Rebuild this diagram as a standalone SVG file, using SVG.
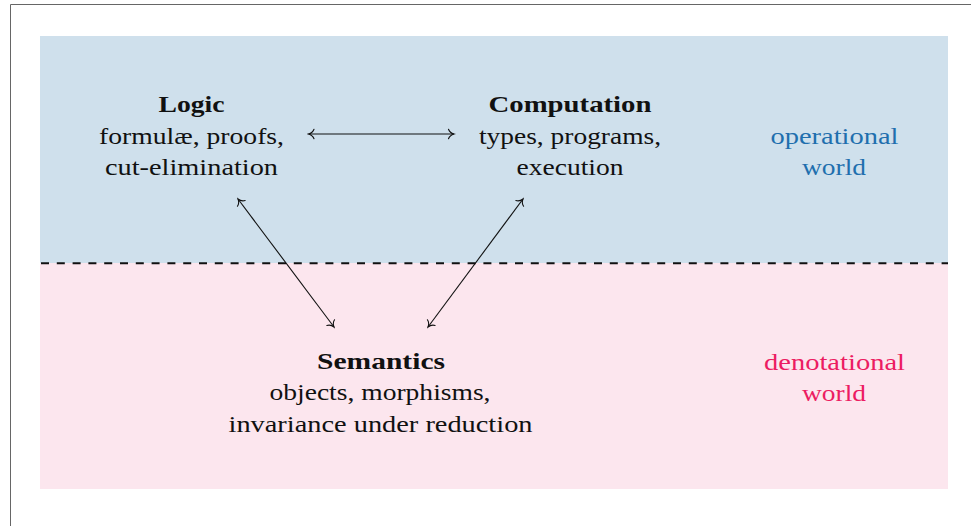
<svg xmlns="http://www.w3.org/2000/svg" width="971" height="526" viewBox="0 0 971 526">
<style>
.t{font-family:"Liberation Serif","DejaVu Serif",serif;font-size:24px;fill:#111;text-anchor:middle}
.b{font-weight:bold}
.op{fill:#1f6fae}
.dn{fill:#ec1c62}
.c{stroke:#111;stroke-width:1.1;fill:none;marker-start:url(#ah);marker-end:url(#ah)}
</style>
<defs>
<marker id="ah" viewBox="-7 -6 9 12" markerWidth="9" markerHeight="12" markerUnits="userSpaceOnUse" refX="0" refY="0" orient="auto-start-reverse">
<path d="M-5.5,-4.8 C-4.5,-2 -1.5,-0.4 0,0 C-1.5,0.4 -4.5,2 -5.5,4.8" fill="none" stroke="#111" stroke-width="1.1" stroke-linecap="round"/>
</marker>
</defs>
<rect x="0" y="0" width="971" height="526" fill="#fff"/>
<path d="M10.5,526 V4.5 H971" fill="none" stroke="#666" stroke-width="1"/>
<rect x="40" y="36" width="908" height="227" fill="#cfe0ec"/>
<rect x="40" y="263" width="908" height="226" fill="#fce6ee"/>
<line x1="41" y1="263.3" x2="948" y2="263.3" stroke="#111" stroke-width="2" stroke-dasharray="8 7.8"/>
<g id="connectors">
<line class="c" x1="308.5" y1="134" x2="454" y2="134"/>
<line class="c" x1="238" y1="199" x2="334" y2="327"/>
<line class="c" x1="523" y1="199" x2="428" y2="327"/>
</g>
<g id="logic">
<text class="t b" x="191.5" y="112" textLength="66" lengthAdjust="spacingAndGlyphs">Logic</text>
<text class="t" x="191.5" y="143.5" textLength="185" lengthAdjust="spacingAndGlyphs">formulæ, proofs,</text>
<text class="t" x="191.5" y="174.5" textLength="173" lengthAdjust="spacingAndGlyphs">cut-elimination</text>
</g>
<g id="computation">
<text class="t b" x="570" y="112" textLength="163" lengthAdjust="spacingAndGlyphs">Computation</text>
<text class="t" x="570" y="143.5" textLength="182" lengthAdjust="spacingAndGlyphs">types, programs,</text>
<text class="t" x="570" y="174.5" textLength="107" lengthAdjust="spacingAndGlyphs">execution</text>
</g>
<g id="semantics">
<text class="t b" x="381" y="368.5" textLength="128" lengthAdjust="spacingAndGlyphs">Semantics</text>
<text class="t" x="380" y="400" textLength="221" lengthAdjust="spacingAndGlyphs">objects, morphisms,</text>
<text class="t" x="380.5" y="431.5" textLength="304" lengthAdjust="spacingAndGlyphs">invariance under reduction</text>
</g>
<g id="operational">
<text class="t op" x="834.5" y="143.5" textLength="128" lengthAdjust="spacingAndGlyphs">operational</text>
<text class="t op" x="834" y="175" textLength="64" lengthAdjust="spacingAndGlyphs">world</text>
</g>
<g id="denotational">
<text class="t dn" x="834.5" y="369.5" textLength="141" lengthAdjust="spacingAndGlyphs">denotational</text>
<text class="t dn" x="834" y="401" textLength="64" lengthAdjust="spacingAndGlyphs">world</text>
</g>
</svg>
